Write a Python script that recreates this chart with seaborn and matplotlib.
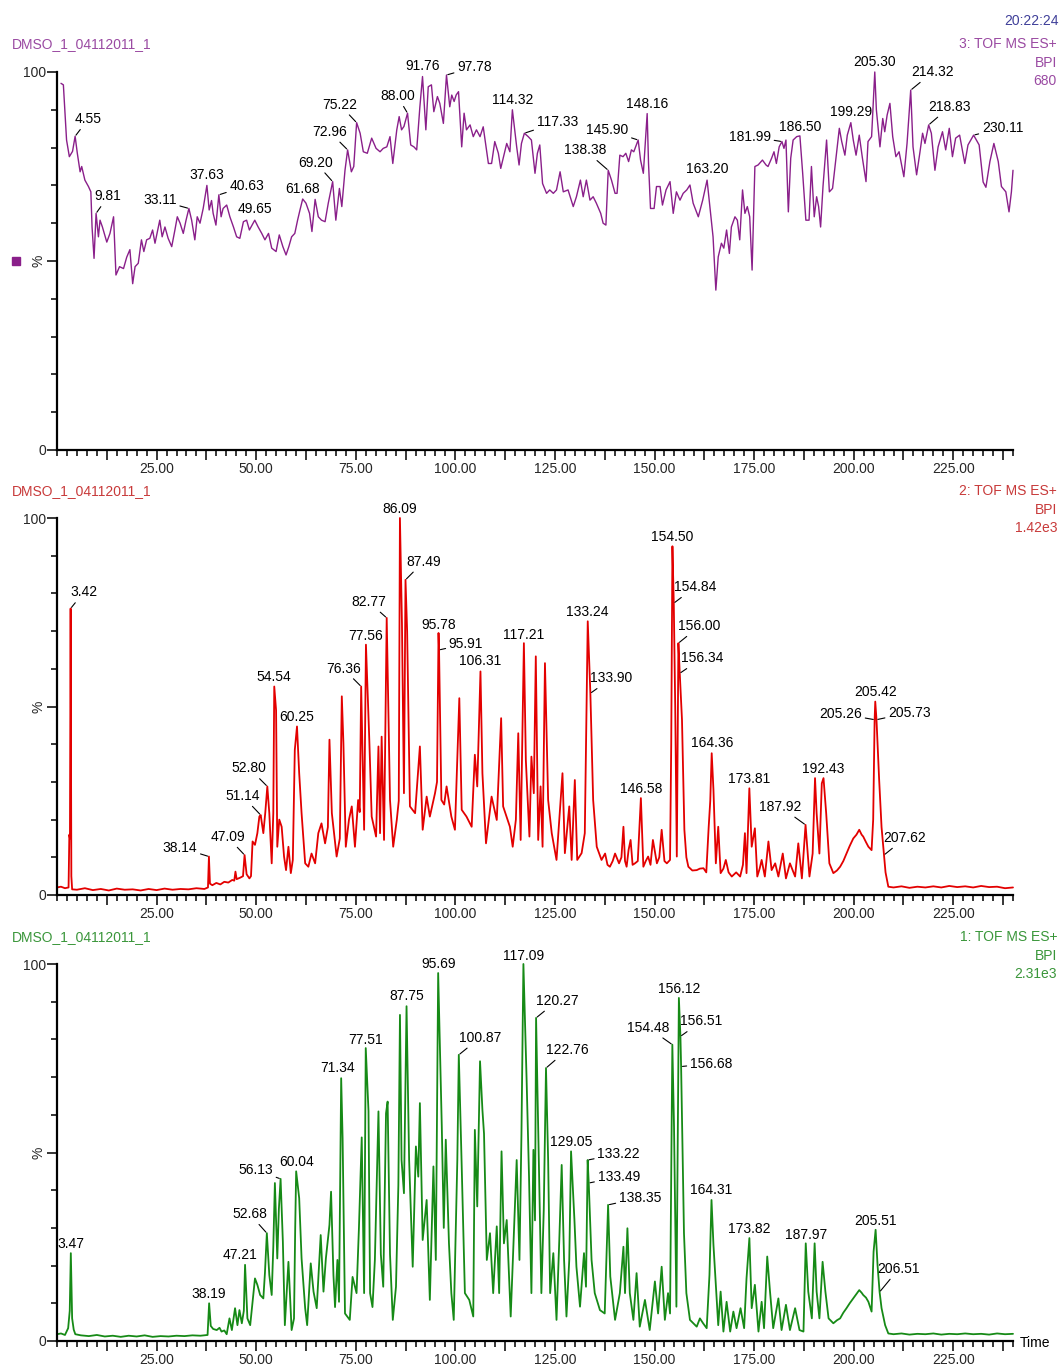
import numpy as np
import pandas as pd
import matplotlib
matplotlib.use("Agg")
import matplotlib.pyplot as plt
from matplotlib.ticker import MultipleLocator, FixedLocator
import seaborn as sns

sns.set_theme(style="white")
plt.rcParams["font.family"] = ["Liberation Sans", "DejaVu Sans"]

# ---------------------------------------------------------------- data
# Function 3 (top trace): retention time (min) and relative intensity (%)
t3_time = [1.0, 1.6, 2.4, 3.1, 3.9, 4.55, 5.1, 5.8, 6.2, 7.0, 7.9, 8.5, 8.8, 9.3, 9.81, 10.4, 10.8, 11.4,
           12.5, 13.3, 14.2, 14.8, 15.7, 16.7, 17.5, 18.3, 19.0, 19.6, 20.4, 21.2, 21.8, 22.5, 23.3, 24.0,
           24.6, 25.2, 25.8, 26.4, 27.1, 27.9, 28.8, 29.6, 30.2, 30.9, 31.7, 32.4, 33.11, 33.8, 34.6, 35.2,
           35.9, 36.7, 37.63, 38.2, 38.8, 39.2, 39.9, 40.63, 41.2, 41.7, 42.6, 43.4, 44.3, 45.1, 45.9, 46.8,
           47.6, 48.3, 49.65, 50.5, 51.4, 52.2, 53.1, 53.9, 55.0, 55.8, 56.7, 57.5, 58.2, 58.9, 59.7, 60.4,
           61.0, 61.68, 62.5, 63.4, 64.0, 64.8, 65.6, 66.4, 67.3, 68.1, 69.20, 70.0, 70.9, 71.5, 72.3, 72.96,
           73.9, 74.5, 75.22, 76.1, 76.9, 77.9, 79.0, 80.1, 81.1, 81.9, 82.8, 83.6, 84.3, 85.3, 85.9, 86.5,
           87.1, 88.00, 88.8, 89.6, 90.3, 91.1, 91.76, 92.6, 93.2, 94.0, 94.6, 95.5, 96.1, 97.0, 97.78, 98.6,
           99.1, 99.7, 100.2, 100.8, 101.6, 102.2, 102.8, 103.7, 104.5, 105.3, 106.2, 107.0, 108.3, 109.1,
           109.9, 110.8, 111.4, 112.2, 112.9, 113.7, 114.32, 115.4, 116.0, 116.6, 117.33, 118.3, 119.1, 120.0,
           120.6, 121.2, 121.9, 122.9, 123.7, 124.6, 125.4, 126.3, 127.1, 128.3, 129.6, 130.4, 131.4, 132.1,
           132.9, 133.8, 134.6, 135.4, 136.5, 137.1, 137.8, 138.38, 139.2, 140.1, 140.6, 141.3, 142.1, 142.8,
           143.5, 144.2, 144.8, 145.90, 146.5, 147.2, 148.16, 148.5, 149.0, 149.9, 150.5, 151.4, 152.0, 152.9,
           153.9, 154.7, 155.5, 156.4, 157.2, 158.1, 158.9, 159.7, 161.0, 162.1, 163.20, 163.9, 164.7, 165.4,
           166.0, 166.8, 167.4, 168.1, 168.8, 169.3, 170.2, 170.8, 171.4, 172.1, 172.7, 173.3, 173.9, 174.5,
           175.2, 176.0, 177.1, 178.0, 178.5, 179.4, 180.0, 180.6, 181.3, 181.99, 182.5, 183.0, 183.6, 184.2,
           184.8, 185.7, 186.50, 187.2, 188.0, 188.8, 189.4, 190.1, 190.7, 191.2, 191.7, 192.3, 193.2, 193.9,
           194.7, 195.5, 196.4, 197.0, 197.8, 198.4, 199.29, 199.9, 200.6, 201.4, 202.2, 203.1, 203.6, 204.5,
           205.30, 205.7, 206.6, 207.3, 207.8, 208.4, 209.1, 209.8, 210.6, 211.4, 212.6, 213.4, 214.32, 214.9,
           215.8, 216.6, 217.3, 217.9, 218.83, 219.5, 220.4, 221.2, 222.3, 223.1, 224.0, 224.8, 225.6, 226.6,
           227.9, 228.7, 230.11, 231.5, 232.5, 233.2, 234.2, 235.2, 236.3, 237.1, 238.2, 239.0, 239.6, 240.0]
t3_pct = [97, 96.6, 82, 77.6, 79, 83, 78.5, 73.6, 75, 71.4, 69.7, 68.3, 59, 50.7, 62.6, 56.4, 60.8, 59,
          55, 57.3, 61.7, 46.3, 48.5, 48, 51, 53, 44, 48.5, 49.4, 55.6, 52.5, 55.6, 56, 58.2,
          54.7, 57.8, 60.8, 56.4, 59, 56, 53.8, 58.2, 61.7, 60, 57.3, 60.8, 63.9, 60.8, 55.6, 61.7,
          60, 63.9, 70, 63.5, 66, 62.6, 59.5, 67.5, 61.7, 63.9, 64.8, 61.7, 59, 56.4, 56, 60.4,
          60.8, 58.2, 60.8, 59, 57.3, 55.6, 57.3, 53.4, 52.5, 56.9, 53.8, 51.6, 53.8, 56.4, 57.3, 60.8,
          63.5, 66.4, 65.3, 62.6, 57.8, 66.3, 61.7, 60.8, 60.4, 65.3, 71, 60.8, 69.2, 64.4, 74, 79.4,
          73.6, 75, 86.6, 83.8, 78.9, 78.5, 82.5, 79.8, 78.9, 79.8, 80.2, 82.9, 75.8, 84.7, 88.2, 84.7,
          85.6, 89.1, 80.7, 80.2, 79.4, 90.8, 98.8, 84.7, 96.1, 96.6, 89.5, 93.5, 91.7, 86.4, 99.2, 90.8,
          93.9, 92.2, 93.9, 94.8, 80.2, 89.1, 84.7, 86, 82.9, 84.7, 82.9, 85.5, 75.8, 75.8,
          81.6, 78.5, 74.5, 78, 81.1, 78.9, 90, 80.2, 75.4, 81.1, 83.8, 82.9, 82, 73.2,
          78.5, 80.7, 70.5, 67.9, 68.8, 67.9, 68.8, 73.6, 68.3, 68.8, 64.4, 67, 71.4, 67,
          71.4, 66.1, 67, 65.3, 62.6, 60, 59.5, 74, 71.4, 67.9, 67.9, 78, 77.6, 78.5,
          76.3, 79.4, 78.9, 82, 76.7, 73.2, 89, 75.8, 63.9, 63.9, 69.7, 69.7, 64.8, 68.8,
          71, 62.6, 68.3, 66.1, 67.9, 68.8, 70.1, 65.3, 61.7, 66.1, 71.4, 64.4, 56.4, 42.3,
          51.1, 54.7, 53.4, 58.2, 52, 59, 61.7, 60.8, 55.6, 68.8, 62.6, 64.4, 61.7, 47.6,
          75, 75.4, 76.7, 75.4, 75, 77.2, 78.9, 75.8, 80.2, 81.6, 79.8, 82, 63, 77.2,
          82, 82.9, 83.1, 73.2, 60.8, 60.8, 75, 61.7, 67, 64.4, 59, 69.7, 82, 68.3,
          69.2, 76.7, 85.1, 81.6, 78, 83.3, 86.6, 82, 78, 83.3, 77.2, 71, 81.6, 82.9,
          100, 90, 80.2, 87.7, 84.2, 88.6, 91.7, 82.9, 77.6, 78.9, 72.3, 81.1, 95.2, 80.2,
          72.8, 78.5, 83.8, 81.1, 86, 83.8, 74, 80.2, 84.2, 79.4, 85.1, 77.6, 82.5, 83.3,
          75.8, 80.7, 83.3, 80.7, 70.9, 69.5, 76.3, 81.1, 76.3, 69.7, 68.3, 63, 68.3, 74]

# Function 2 (middle trace)
t2_time = [0.0, 1.0, 2.0, 2.9, 3.1, 3.25, 3.42, 3.6, 3.8, 5.0,
           7.0, 9.0, 11.0, 13.0, 15.0, 17.0, 19.0, 21.0, 23.0, 25.0,
           27.0, 29.0, 31.0, 33.0, 35.0, 37.0, 37.9, 38.14, 38.4, 39.0,
           40.0, 41.0, 42.0, 43.0, 44.0, 44.5, 44.8, 45.1, 46.0, 46.7,
           47.09, 47.6, 48.3, 48.7, 49.1, 49.7, 50.3, 50.8, 51.14, 51.8,
           52.3, 52.80, 53.3, 53.9, 54.3, 54.54, 55.0, 55.3, 55.8, 56.4,
           57.0, 57.5, 58.1, 58.7, 59.2, 59.7, 60.25, 60.8, 61.4, 62.3,
           63.1, 63.9, 64.8, 65.6, 66.4, 67.3, 68.0, 68.4, 69.0, 70.2,
           71.0, 71.5, 71.9, 72.5, 73.3, 74.0, 74.8, 75.6, 76.0, 76.36,
           77.1, 77.56, 78.4, 79.0, 80.1, 80.7, 81.1, 81.5, 82.1, 82.77,
           83.6, 84.4, 85.3, 85.8, 86.09, 86.6, 87.1, 87.49, 87.9, 88.6,
           89.9, 91.1, 91.8, 92.8, 93.6, 94.9, 95.4, 95.78, 95.91, 96.5,
           97.2, 97.8, 99.0, 99.9, 101.0, 101.6, 102.8, 104.1, 104.9, 105.5,
           106.31, 106.8, 107.7, 108.4, 109.1, 110.4, 111.5, 112.0, 113.7, 114.4,
           115.2, 115.8, 116.4, 117.21, 117.7, 118.6, 119.1, 119.7, 120.2, 120.8,
           121.4, 121.9, 122.5, 123.3, 124.2, 125.4, 126.9, 127.5, 128.6, 129.2,
           130.0, 130.6, 131.7, 132.5, 133.24, 133.90, 134.6, 135.5, 136.7, 137.6,
           138.2, 138.8, 139.5, 140.1, 141.1, 141.7, 142.2, 142.6, 143.0, 143.5,
           144.0, 144.5, 145.1, 145.8, 146.58, 147.2, 147.8, 148.4, 149.0, 149.6,
           150.6, 151.2, 151.8, 152.5, 153.1, 153.9, 154.2, 154.50, 154.84, 155.2,
           155.6, 155.8, 156.00, 156.34, 156.9, 157.5, 158.0, 158.5, 159.5, 160.6,
           161.4, 162.3, 163.0, 163.6, 164.0, 164.36, 164.8, 165.4, 166.0, 166.6,
           167.3, 167.9, 168.6, 169.4, 170.5, 171.5, 172.2, 172.7, 173.1, 173.81,
           174.4, 175.2, 175.8, 176.4, 176.9, 177.7, 178.6, 179.4, 180.3, 181.1,
           182.2, 183.0, 184.0, 185.3, 186.1, 187.0, 187.92, 188.9, 189.7, 190.3,
           190.7, 191.4, 192.0, 192.43, 193.1, 193.9, 194.9, 195.8, 196.6, 197.4,
           198.2, 199.0, 199.9, 200.7, 201.4, 202.0, 202.4, 203.1, 203.7, 204.5,
           204.9, 205.26, 205.42, 205.73, 206.4, 207.0, 207.62, 208.0, 208.7, 210,
           212, 214, 216, 218, 220, 222, 224, 226, 228, 230,
           232, 234, 236, 238, 240]
t2_pct = [2.0, 2.2, 1.8, 2.0, 16, 15, 76, 5, 1.5, 1.4,
          1.8, 1.3, 1.6, 1.2, 1.7, 1.4, 1.5, 1.2, 1.6, 1.3,
          1.7, 1.4, 1.6, 1.5, 1.8, 1.6, 2.0, 10.2, 3.0, 2.6,
          3.2, 2.8, 3.5, 3.3, 4.0, 3.8, 6.2, 4.2, 4.6, 5.0,
          10.6, 5.5, 4.4, 5.0, 14.2, 13.3, 16.4, 20.8, 21.2, 16.4,
          22, 28.8, 21.7, 8.4, 21.7, 55.3, 49, 12.8, 20, 18.1,
          10.2, 6.6, 12.8, 5.8, 9.3, 38.5, 44.7, 32.3, 21.7, 8.4,
          7.5, 11, 8.4, 16.4, 19, 13.7, 18, 41.2, 21.7, 10.2,
          15, 52.7, 40.3, 12.8, 20, 23.5, 12.8, 25.2, 22, 55.3,
          17.3, 66.4, 41.2, 20.8, 15.5, 39.4, 16.4, 42, 14.6, 73.5,
          25.2, 12.8, 19.9, 25, 100, 72, 27, 83.6, 70, 23.5,
          21.7, 39.4, 17.3, 26.1, 20.8, 27, 30, 69.5, 65, 25.2,
          24, 28.8, 20.8, 17.3, 52.2, 22.6, 20.8, 18.1, 37.2, 28.8,
          59.3, 32.3, 13.7, 20, 26.1, 19.9, 46.9, 23.5, 18.1, 12.8,
          20, 42.9, 14.6, 66.8, 35.8, 15.5, 36.7, 27, 63.3, 14.6,
          28.8, 12.8, 61.5, 25.2, 16.4, 9.3, 32.3, 11.1, 23.5, 9.3,
          30.5, 9.3, 11.1, 16.4, 72.6, 53.5, 25.2, 12.8, 9.3, 11,
          8, 7.5, 9, 11, 8.4, 10, 18.1, 9, 7.5, 12,
          14.6, 8, 8.4, 9, 25.7, 7.5, 9, 10.2, 8, 14.6,
          8.4, 10, 17.3, 9, 8.4, 9.3, 40, 92.5, 77.4, 50,
          10.2, 40, 66.8, 58.8, 46.5, 17.3, 10, 7.5, 6.5, 6.6,
          7, 7.1, 6, 18, 25, 37.6, 27.9, 8.4, 18.1, 5.8,
          7, 9.3, 6, 4.9, 6, 4.9, 8, 16.4, 5.8, 28.3,
          12.8, 17.7, 4.9, 7, 9.3, 4.9, 14.2, 6.6, 8.4, 4.9,
          11, 4.4, 8.4, 4.9, 13.7, 4.4, 18.6, 4.9, 11, 31,
          21.7, 11, 29.6, 31, 21.7, 8.4, 5.8, 6.5, 7.5, 9,
          11, 13, 15, 16, 17.3, 16, 15.5, 14, 12.8, 11.9,
          20, 46.5, 51.3, 46.5, 30.5, 18, 10.6, 6, 2.2, 2.0,
          2.3, 1.9, 2.2, 2.0, 2.3, 2.0, 2.4, 2.1, 2.3, 2.0,
          2.4, 2.1, 2.2, 1.8, 2.0]

# Function 1 (bottom trace)
t1_time = [0, 1, 2, 2.8, 3.2, 3.47, 3.8, 4.2, 4.6, 6,
           8, 10, 12, 14, 16, 18, 20, 22, 24, 26,
           28, 30, 32, 34, 36, 37.8, 38.19, 38.6, 39.2, 40.1,
           40.8, 41.3, 42.0, 42.6, 43.3, 43.9, 44.7, 45.3, 45.8, 46.4,
           46.9, 47.21, 47.8, 48.5, 49.1, 49.7, 50.3, 51.0, 51.8, 52.2,
           52.68, 53.3, 53.9, 54.3, 54.7, 55.3, 55.7, 56.13, 56.7, 57.2,
           58.1, 58.9, 59.5, 59.8, 60.04, 60.8, 61.4, 62.3, 62.8, 63.7,
           64.4, 65.2, 66.2, 66.9, 67.5, 68.4, 68.8, 69.4, 69.8, 70.4,
           70.8, 71.34, 71.7, 72.3, 73.5, 74.2, 75.2, 75.8, 76.5, 77.1,
           77.51, 78.2, 78.6, 79.2, 79.8, 80.7, 81.3, 81.9, 82.6, 83.0,
           83.6, 84.3, 85.1, 85.7, 86.1, 86.5, 87.1, 87.75, 88.4, 89.3,
           90.1, 90.7, 91.1, 91.8, 92.8, 93.6, 94.5, 95.1, 95.69, 96.6,
           97.1, 97.6, 98.4, 99.0, 99.6, 100.5, 100.87, 101.6, 102.4, 103.5,
           104.5, 104.9, 105.5, 106.2, 106.8, 107.2, 107.9, 108.7, 109.5, 110.4,
           111.0, 111.6, 112.2, 112.9, 113.9, 114.5, 115.4, 116.1, 116.6, 117.09,
           117.9, 118.5, 119.1, 119.6, 120.0, 120.27, 120.8, 121.6, 122.2, 122.76,
           123.3, 123.8, 124.6, 125.4, 126.1, 126.7, 127.3, 127.9, 128.6, 129.05,
           129.9, 130.4, 131.3, 132.3, 132.8, 133.22, 133.49, 134.2, 135.0, 136.3,
           137.5, 138.35, 138.9, 140.1, 141.3, 142.2, 142.6, 143.2, 143.8, 144.7,
           145.5, 146.3, 147.6, 148.8, 150.1, 150.9, 151.8, 152.6, 153.4, 153.9,
           154.48, 154.9, 155.5, 156.12, 156.51, 156.68, 157.4, 158.0, 158.9, 160.6,
           161.4, 162.2, 163.1, 163.8, 164.31, 164.8, 165.4, 166.0, 166.6, 167.3,
           168.1, 169.0, 169.8, 170.6, 171.6, 172.5, 173.1, 173.82, 174.4, 175.2,
           176.1, 176.9, 177.5, 178.3, 179.0, 179.8, 181.1, 181.9, 183.0, 184.0,
           185.3, 186.4, 187.4, 187.97, 188.6, 189.5, 190.2, 190.7, 191.4, 192.2,
           192.9, 193.7, 194.9, 195.8, 196.6, 197.4, 198.2, 199.0, 199.9, 200.7,
           201.4, 202.0, 202.4, 203.1, 203.7, 204.5, 205.0, 205.51, 206.0, 206.51,
           207.0, 207.9, 208.7, 210, 212, 214, 216, 218, 220, 222,
           224, 226, 228, 230, 232, 234, 236, 238, 240]
t1_pct = [1.8, 2.0, 1.6, 3.4, 8, 23.3, 6, 3, 1.8, 1.5,
          1.3, 1.6, 1.2, 1.4, 1.1, 1.4, 1.2, 1.5, 1.1, 1.3,
          1.2, 1.4, 1.3, 1.5, 1.4, 1.6, 10, 4, 3.2, 2.9,
          3.5, 2.5, 2.8, 1.8, 6, 2.9, 8.7, 4.2, 8.2, 4.7,
          8, 20.2, 6, 4.2, 10.4, 16.6, 14.9, 12.2, 11.3, 18,
          28.6, 17.5, 12.2, 25, 41.9, 21.9, 35, 43, 26.4, 4.2,
          21, 2.9, 6, 30, 45, 37.9, 21.9, 8.7, 4.2, 20.6,
          13.1, 8.7, 28.1, 13.1, 21.9, 30.8, 39.6, 17.5, 9, 21.5,
          10.4, 69.7, 53.8, 7.3, 5.6, 17, 12.7, 30, 54, 12.7,
          77.7, 61, 12.7, 9, 21.5, 60.9, 23, 14.4, 60.4, 63.5,
          23, 5.6, 14.4, 41.4, 86.5, 48, 39.2, 88.8, 48, 19.7,
          51.6, 43.6, 63.1, 26.8, 37.4, 10.9, 46.3, 21.5, 97.6, 56.9,
          30, 53.4, 25.9, 12.7, 5.6, 48, 75.9, 46.3, 12.7, 10.9,
          6.5, 56, 35.7, 74.2, 61.3, 55, 21.5, 28.6, 12.7, 30.4,
          12.7, 50.3, 25.9, 32.1, 6.5, 23.3, 48, 21.5, 55, 100,
          69, 43.6, 12.7, 50.7, 32, 85.7, 56.9, 12.7, 34.8, 72.4,
          48, 12.7, 23.3, 5.6, 26.8, 46.7, 21.5, 6.5, 21.5, 50.3,
          32.1, 19.7, 9.1, 23.3, 14.4, 48, 41.9, 21.5, 12.7, 8.2,
          7.3, 36.1, 17.1, 5.6, 12.7, 25, 12.7, 29.9, 12.7, 5.6,
          18, 3.8, 10.9, 2.9, 15.8, 7.3, 19.7, 5.6, 12.7, 7.3,
          78.6, 56.9, 9.1, 91, 80.8, 72.8, 28.6, 12.7, 5.6, 3.8,
          6, 4.7, 3.4, 17.5, 37.4, 25.5, 14.9, 4.2, 13.1, 2.5,
          10.4, 2.5, 7.8, 3.4, 8.7, 3.4, 16.6, 27.3, 8.7, 14.9,
          2.5, 10.4, 3.4, 22.4, 13.1, 3.4, 11.3, 2.9, 9.6, 2.9,
          8.7, 2.9, 2.5, 25.9, 13.1, 6, 25.9, 13.1, 6, 21,
          13.1, 6, 4.7, 5.5, 6, 7.5, 8.7, 10, 11.3, 12.5,
          13.5, 12.8, 12.2, 11.5, 10.4, 7.8, 23.7, 29.5, 20, 13,
          8.7, 4.2, 2, 1.8, 2.0, 1.7, 1.9, 1.8, 2.0, 1.7,
          1.9, 1.8, 2.0, 1.8, 1.9, 1.7, 2.0, 1.8, 1.9]

# Labelled peaks (retention times) for each trace
f3_peaks = [4.55, 9.81, 33.11, 37.63, 40.63, 49.65, 61.68, 69.20, 72.96, 75.22, 88.00, 91.76, 97.78,
            114.32, 117.33, 138.38, 145.90, 148.16, 163.20, 181.99, 186.50, 199.29, 205.30, 214.32,
            218.83, 230.11]
f2_peaks = [3.42, 38.14, 47.09, 51.14, 52.80, 54.54, 60.25, 76.36, 77.56, 82.77, 86.09, 87.49, 95.78,
            95.91, 106.31, 117.21, 133.24, 133.90, 146.58, 154.50, 154.84, 156.00, 156.34, 164.36,
            173.81, 187.92, 192.43, 205.26, 205.42, 205.73, 207.62]
f1_peaks = [3.47, 38.19, 47.21, 52.68, 56.13, 60.04, 71.34, 77.51, 87.75, 95.69, 100.87, 117.09, 120.27,
            122.76, 129.05, 133.22, 133.49, 138.35, 154.48, 156.12, 156.51, 156.68, 164.31, 173.82,
            187.97, 205.51, 206.51]

# Label placement (pixel offsets of the label centre from the peak apex)
f3_offsets = [(13, 17), (12, 17), (-29, 8), (0, 10), (28, 9), (0, 11), (0, 10), (-17, 19), (-18, 18),
              (-17, 18), (-10, 17), (0, 11), (28, 8), (0, 10), (33, 11), (-23, 20), (-31, 10), (0, 10),
              (0, 11), (-32, 5), (0, 9), (0, 11), (0, 10), (22, 18), (21, 18), (29, 7)]
f2_offsets = [(13, 16), (-29, 9), (-17, 18), (-18, 19), (-18, 18), (0, 10), (0, 9), (-18, 18), (0, 9),
              (-18, 16), (0, 9), (18, 18), (0, 8), (27, 6), (0, 10), (0, 8), (0, 9), (21, 15), (0, 9),
              (0, 9), (21, 16), (21, 17), (22, 15), (0, 10), (0, 9), (-25, 18), (0, 9), (-34, 6),
              (0, 10), (33, 7), (21, 17)]
f1_offsets = [(0, 9), (0, 9), (-5, 10), (-17, 19), (-25, 9), (0, 9), (-4, 10), (0, 8), (0, 10), (0, 9),
              (21, 17), (0, 8), (21, 17), (21, 18), (0, 9), (31, 6), (30, 6), (32, 7), (-24, 17),
              (0, 9), (21, 15), (30, 3), (0, 10), (0, 9), (0, 8), (0, 9), (19, 23)]

sample_name = "DMSO_1_04112011_1"
acq_time = "20:22:24"
functions = ["3: TOF MS ES+", "2: TOF MS ES+", "1: TOF MS ES+"]
bpi_max = ["680", "1.42e3", "2.31e3"]

# ---------------------------------------------------------------- layout
W, H = 1062, 1366
fig = plt.figure(figsize=(W / 100, H / 100), dpi=100)
fig.patch.set_facecolor("white")


def rect(left, top, right, bottom):
    return [left / W, 1 - bottom / H, (right - left) / W, (bottom - top) / H]


def ftext(x, y, s, **kw):
    fig.text(x / W, 1 - y / H, s, fontsize=10, **kw)


panels = [
    dict(time=t3_time, pct=t3_pct, peaks=f3_peaks, offs=f3_offsets, box=(57, 72, 1013, 450),
         line="#8A1F8A", lw=1.0, text="#9A4AA2", head_y=44, fn=functions[0], bpi=bpi_max[0]),
    dict(time=t2_time, pct=t2_pct, peaks=f2_peaks, offs=f2_offsets, box=(57, 518, 1013, 895),
         line="#E30000", lw=1.3, text="#C83A3A", head_y=491, fn=functions[1], bpi=bpi_max[1]),
    dict(time=t1_time, pct=t1_pct, peaks=f1_peaks, offs=f1_offsets, box=(57, 964, 1013, 1341),
         line="#168A16", lw=1.3, text="#3A963A", head_y=937, fn=functions[2], bpi=bpi_max[2]),
]

axes = []
for p in panels:
    ax = fig.add_axes(rect(*p["box"]))
    axes.append(ax)
    df = pd.DataFrame({"time": p["time"], "pct": p["pct"]})
    sns.lineplot(data=df, x="time", y="pct", ax=ax, color=p["line"], lw=p["lw"],
                 estimator=None, sort=False)
    for ln in ax.lines:
        ln.set_clip_on(False)

    ax.set_xlim(0, 240)
    ax.set_ylim(0, 100)
    ax.set_xlabel("")
    ax.set_ylabel("")
    ax.set_facecolor("white")
    for side in ("top", "right"):
        ax.spines[side].set_visible(False)
    for side in ("left", "bottom"):
        ax.spines[side].set_color("black")
        ax.spines[side].set_linewidth(1.6)

    # x ticks: every 2.5 min, longer every 12.5, labelled every 25
    major_x = np.arange(12.5, 240, 12.5)
    ax.xaxis.set_major_locator(FixedLocator(major_x))
    ax.set_xticklabels([f"{v:.2f}" if v % 25 == 0 else "" for v in major_x])
    ax.xaxis.set_minor_locator(MultipleLocator(2.5))
    # y ticks: every 10 %, labelled 0, %, 100
    ax.set_yticks([0, 50, 100])
    ax.set_yticklabels(["0", "%", "100"])
    ax.yaxis.set_minor_locator(MultipleLocator(10))
    ax.get_yticklabels()[1].set_rotation(90)
    ax.get_yticklabels()[1].set_va("center")

    ax.tick_params(axis="x", which="major", direction="out", length=7, width=1.1, color="black",
                   labelsize=10, pad=2, bottom=True)
    ax.tick_params(axis="x", which="minor", direction="out", length=4, width=1.1, color="black",
                   bottom=True)
    ax.tick_params(axis="y", which="major", direction="out", length=7, width=1.1, color="black",
                   labelsize=10, pad=1, left=True)
    ax.tick_params(axis="y", which="minor", direction="out", length=4, width=1.1, color="black",
                   left=True)

    # peak labels
    t_arr = np.asarray(p["time"])
    v_arr = np.asarray(p["pct"])
    for peak, (dx, dy) in zip(p["peaks"], p["offs"]):
        y = v_arr[np.argmin(np.abs(t_arr - peak))]
        leader = abs(dx) > 6
        ax.annotate(f"{peak:.2f}", xy=(peak, y), xytext=(dx, dy), textcoords="offset pixels",
                    ha="center", va="center", fontsize=10, color="black", annotation_clip=False,
                    arrowprops=dict(arrowstyle="-", lw=0.8, color="black", shrinkA=0, shrinkB=1)
                    if leader else None)

    # headers
    ftext(12, p["head_y"], sample_name, color=p["text"], ha="left", va="center")
    ftext(1057, p["head_y"], p["fn"], color=p["text"], ha="right", va="center")
    ftext(1057, p["head_y"] + 19, "BPI", color=p["text"], ha="right", va="center")
    ftext(1057, p["head_y"] + 37, p["bpi"], color=p["text"], ha="right", va="center")

ftext(1059, 21, acq_time, color="#3F3F99", ha="right", va="center")
ftext(1020, 1343, "Time", color="black", ha="left", va="center")

# trace selector marker beside the top panel
axes[0].plot([-0.043], [0.5], marker="s", ms=6, color="#8A1F8A", transform=axes[0].transAxes,
             clip_on=False, linestyle="none")

fig.savefig("out.png", dpi=100, facecolor="white")
